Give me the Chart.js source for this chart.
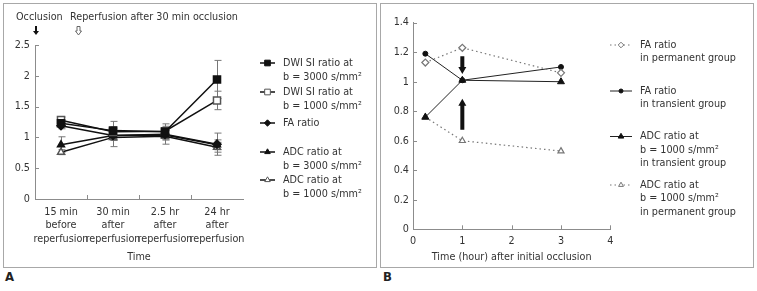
<!DOCTYPE html>
<html>
<head>
<meta charset="utf-8">
<script src="https://cdn.jsdelivr.net/npm/chart.js@4"></script>
<style>
  body { margin: 0; background: #fff; width: 757px; height: 291px; position: relative; overflow: hidden; }
  .panel { position: absolute; top: 3px; width: 372px; height: 263px; border: 1px solid #a8a8a8; }
  #panelA { left: 3px; }
  #panelB { left: 380px; }
  .tag { position: absolute; top: 269px; font-weight: bold; font-size: 13px; color: #222; }
</style>
</head>
<body>
<div class="panel" id="panelA"><canvas id="chartA" width="372" height="263"></canvas></div>
<div class="panel" id="panelB"><canvas id="chartB" width="372" height="263"></canvas></div>
<div class="tag" style="left:5px">A</div>
<div class="tag" style="left:383px">B</div>
<script>
// ---- panel A data ----
const timesA = [
  ['15 min', 'before', 'reperfusion'],
  ['30 min', 'after', 'reperfusion'],
  ['2.5 hr', 'after', 'reperfusion'],
  ['24 hr', 'after', 'reperfusion']
];
const dwi3000 = [1.23, 1.11, 1.09, 1.94];
const dwi3000Err = [0.05, 0.15, 0.13, 0.31];
const dwi1000 = [1.28, 1.09, 1.10, 1.60];
const dwi1000Err = [0.05, 0.08, 0.08, 0.15];
const faRatio = [1.19, 1.03, 1.05, 0.89];
const faRatioErr = [0.05, 0.06, 0.06, 0.18];
const adc3000 = [0.88, 1.03, 1.04, 0.88];
const adc3000Err = [0.13, 0.08, 0.08, 0.08];
const adc1000 = [0.76, 1.00, 1.02, 0.84];
const adc1000Err = [0.04, 0.15, 0.13, 0.08];
const legendA = [
  ['DWI SI ratio at', 'b = 3000 s/mm\u00B2'],
  ['DWI SI ratio at', 'b = 1000 s/mm\u00B2'],
  ['FA ratio'],
  ['ADC ratio at', 'b = 3000 s/mm\u00B2'],
  ['ADC ratio at', 'b = 1000 s/mm\u00B2']
];

// ---- panel B data ----
const hoursB = [0.25, 1, 3];
const faPermanent = [1.13, 1.23, 1.06];
const faTransient = [1.19, 1.01, 1.10];
const adcTransient = [0.76, 1.01, 1.00];
const adcPermanent = [0.76, 0.60, 0.53];
const legendB = [
  ['FA ratio', 'in permanent group'],
  ['FA ratio', 'in transient group'],
  ['ADC ratio at', 'b = 1000 s/mm\u00B2', 'in transient group'],
  ['ADC ratio at', 'b = 1000 s/mm\u00B2', 'in permanent group']
];
// arrows pointing at the 1 hour point (x, from value, to value)
const arrowsB = [[1, 1.172, 1.052], [1, 0.674, 0.885]];

// the original uses a narrow sans; take the first one installed and size it so
// the header line is as wide as in the picture (~168px)
function pickFont() {
  const c = document.createElement('canvas').getContext('2d');
  const probe = 'Reperfusion after 30 min occlusion';
  const cands = ['Liberation Sans Narrow', 'DejaVu Sans Condensed', 'Roboto', 'Liberation Sans'];
  for (const f of cands) {
    c.font = '12px monospace';
    const a = c.measureText(probe).width;
    c.font = "12px '" + f + "', monospace";
    const b = c.measureText(probe).width;
    if (Math.abs(a - b) > 0.5) {
      return { family: "'" + f + "', sans-serif", size: Math.max(9.5, Math.min(13, 12 * 168 / b)) };
    }
  }
  return { family: 'sans-serif', size: 11 };
}
const F = pickFont();
const FONT = F.family;
const FS = F.size;
const TXT = '#333';
const AXIS = '#8c8c8c';
Chart.defaults.font.family = FONT;
Chart.defaults.font.size = FS;
Chart.defaults.color = TXT;
document.querySelectorAll('.tag').forEach(el => { el.style.fontFamily = FONT; });

function pairs(xs, ys) {
  return xs.map((x, i) => ({x: x, y: ys[i]}));
}
function plainNum(v) {
  return String(Number(v.toFixed(2)));
}

// small inward tick marks along both axes
function innerTicks(xPositions) {
  return {
    id: 'innerTicks',
    afterDraw(chart) {
      const {ctx, chartArea: a, scales: {x, y}} = chart;
      ctx.save();
      ctx.strokeStyle = AXIS;
      ctx.lineWidth = 1;
      ctx.beginPath();
      y.ticks.forEach(t => {
        const py = Math.round(y.getPixelForValue(t.value)) + 0.5;
        ctx.moveTo(a.left, py); ctx.lineTo(a.left + 4, py);
      });
      xPositions(x).forEach(px => {
        px = Math.round(px) + 0.5;
        ctx.moveTo(px, a.bottom); ctx.lineTo(px, a.bottom - 4);
      });
      ctx.stroke();
      ctx.restore();
    }
  };
}

const errorBars = {
  id: 'errorBars',
  beforeDatasetsDraw(chart) {
    const {ctx, scales: {x, y}} = chart;
    ctx.save();
    ctx.strokeStyle = '#777';
    ctx.lineWidth = 1;
    chart.data.datasets.forEach(ds => {
      if (!ds.errors) return;
      ds.data.forEach((v, j) => {
        const px = Math.round(x.getPixelForValue(j)) + 0.5;
        const hi = y.getPixelForValue(v + ds.errors[j]);
        const lo = y.getPixelForValue(v - ds.errors[j]);
        ctx.beginPath();
        ctx.moveTo(px, hi); ctx.lineTo(px, lo);
        ctx.moveTo(px - 3, hi); ctx.lineTo(px + 4, hi);
        ctx.moveTo(px - 3, lo); ctx.lineTo(px + 4, lo);
        ctx.stroke();
      });
    });
    ctx.restore();
  }
};

function sideLegend(cfg) {
  return {
    id: 'sideLegend',
    afterDraw(chart) {
      const ctx = chart.ctx;
      ctx.save();
      chart.data.datasets.forEach((ds, i) => {
        const y = cfg.rows[i];
        ctx.strokeStyle = ds.borderColor;
        ctx.lineWidth = ds.borderWidth;
        ctx.setLineDash(ds.borderDash || []);
        ctx.beginPath();
        ctx.moveTo(cfg.x0, y); ctx.lineTo(cfg.x1, y);
        ctx.stroke();
        ctx.setLineDash([]);
        ctx.fillStyle = ds.pointBackgroundColor;
        ctx.strokeStyle = ds.pointBorderColor;
        ctx.lineWidth = 1;
        Chart.helpers.drawPoint(ctx, {pointStyle: ds.pointStyle, radius: ds.pointRadius * 0.8, rotation: 0, borderWidth: 1},
          (cfg.x0 + cfg.x1) / 2, y);
        ctx.fillStyle = TXT;
        ctx.font = FS + 'px ' + FONT;
        ctx.textBaseline = 'middle';
        cfg.texts[i].forEach((t, k) => ctx.fillText(t, cfg.tx, y + k * cfg.lh));
      });
      ctx.restore();
    }
  };
}

function arrow(ctx, x, yFrom, yTo, shaft, head, headLen, filled) {
  const dir = yTo > yFrom ? 1 : -1;
  const yb = yTo - dir * headLen;
  ctx.beginPath();
  ctx.moveTo(x - shaft / 2, yFrom);
  ctx.lineTo(x + shaft / 2, yFrom);
  ctx.lineTo(x + shaft / 2, yb);
  ctx.lineTo(x + head / 2, yb);
  ctx.lineTo(x, yTo);
  ctx.lineTo(x - head / 2, yb);
  ctx.lineTo(x - shaft / 2, yb);
  ctx.closePath();
  if (filled) { ctx.fill(); } else { ctx.stroke(); }
}

const annotA = {
  id: 'annotA',
  afterDraw(chart) {
    const ctx = chart.ctx;
    ctx.save();
    ctx.fillStyle = TXT;
    ctx.font = FS + 'px ' + FONT;
    ctx.textBaseline = 'middle';
    ctx.fillText('Occlusion', 12, 13);
    ctx.fillText('Reperfusion after 30 min occlusion', 66, 13);
    ctx.fillStyle = '#111';
    arrow(ctx, 32, 22, 31, 2, 6, 4, true);
    ctx.strokeStyle = '#666';
    ctx.lineWidth = 1;
    arrow(ctx, 74.5, 22.5, 31, 3, 6, 4, false);
    ctx.restore();
  }
};

const annotB = {
  id: 'annotB',
  afterDraw(chart) {
    const {ctx, scales: {x, y}} = chart;
    ctx.save();
    ctx.fillStyle = '#111';
    arrowsB.forEach(a => {
      arrow(ctx, x.getPixelForValue(a[0]), y.getPixelForValue(a[1]), y.getPixelForValue(a[2]), 4, 8, 7, true);
    });
    ctx.restore();
  }
};

function fixWidth(w) { return s => { s.width = w; }; }
function fixHeight(h) { return s => { s.height = h; }; }

// ---- chart A ----
new Chart(document.getElementById('chartA').getContext('2d'), {
  type: 'line',
  data: {
    labels: timesA,
    datasets: [
      { label: 'DWI SI ratio at b = 3000', data: dwi3000, errors: dwi3000Err, borderColor: '#111', borderWidth: 1.5,
        pointStyle: 'rect', pointRadius: 5, pointBackgroundColor: '#111', pointBorderColor: '#111' },
      { label: 'DWI SI ratio at b = 1000', data: dwi1000, errors: dwi1000Err, borderColor: '#111', borderWidth: 1.5,
        pointStyle: 'rect', pointRadius: 5, pointBackgroundColor: '#fff', pointBorderColor: '#555' },
      { label: 'FA ratio', data: faRatio, errors: faRatioErr, borderColor: '#111', borderWidth: 1.5,
        pointStyle: 'rectRot', pointRadius: 4, pointBackgroundColor: '#111', pointBorderColor: '#111' },
      { label: 'ADC ratio at b = 3000', data: adc3000, errors: adc3000Err, borderColor: '#111', borderWidth: 1.5,
        pointStyle: 'triangle', pointRadius: 4, pointBackgroundColor: '#111', pointBorderColor: '#111' },
      { label: 'ADC ratio at b = 1000', data: adc1000, errors: adc1000Err, borderColor: '#111', borderWidth: 1.5,
        pointStyle: 'triangle', pointRadius: 4, pointBackgroundColor: '#fff', pointBorderColor: '#555' }
    ]
  },
  options: {
    responsive: false,
    animation: false,
    layout: { padding: { left: 0, top: 41, right: 133, bottom: 0 } },
    scales: {
      x: {
        offset: true,
        afterFit: fixHeight(68),
        grid: { display: false, drawTicks: false },
        border: { color: AXIS },
        ticks: { padding: 6, font: { lineHeight: '13.7px' }, maxRotation: 0, autoSkip: false },
        title: { display: true, text: 'Time', font: { lineHeight: '13.7px' }, padding: { top: 0, bottom: 3.4 } }
      },
      y: {
        min: 0, max: 2.5,
        afterFit: fixWidth(31),
        grid: { display: false, drawTicks: false },
        border: { color: AXIS },
        ticks: { stepSize: 0.5, padding: 5, callback: plainNum }
      }
    },
    plugins: { legend: { display: false }, tooltip: { enabled: false } }
  },
  plugins: [
    errorBars,
    innerTicks(x => [0, 1, 2].map(i => (x.getPixelForValue(i) + x.getPixelForValue(i + 1)) / 2)),
    sideLegend({ rows: [59, 88, 119, 148, 176], texts: legendA, x0: 256, x1: 271, tx: 279, lh: 14 }),
    annotA
  ]
});

// ---- chart B ----
new Chart(document.getElementById('chartB').getContext('2d'), {
  type: 'line',
  data: {
    datasets: [
      { label: 'FA ratio in permanent group', data: pairs(hoursB, faPermanent), borderColor: '#777', borderWidth: 1.2,
        borderDash: [1.5, 3], pointStyle: 'rectRot', pointRadius: 3.5, pointBackgroundColor: '#fff', pointBorderColor: '#777' },
      { label: 'FA ratio in transient group', data: pairs(hoursB, faTransient), borderColor: '#222', borderWidth: 1,
        pointStyle: 'circle', pointRadius: 2.5, pointBackgroundColor: '#111', pointBorderColor: '#111' },
      { label: 'ADC ratio in transient group', data: pairs(hoursB, adcTransient), borderColor: '#222', borderWidth: 1,
        pointStyle: 'triangle', pointRadius: 4, pointBackgroundColor: '#111', pointBorderColor: '#111' },
      { label: 'ADC ratio in permanent group', data: pairs(hoursB, adcPermanent), borderColor: '#777', borderWidth: 1.2,
        borderDash: [1.5, 3], pointStyle: 'triangle', pointRadius: 3.5, pointBackgroundColor: '#fff', pointBorderColor: '#777' }
    ]
  },
  options: {
    responsive: false,
    animation: false,
    layout: { padding: { left: 0, top: 18.7, right: 142.7, bottom: 0 } },
    scales: {
      x: {
        type: 'linear', min: 0, max: 4,
        afterFit: fixHeight(37.7),
        grid: { display: false, drawTicks: false },
        border: { color: AXIS },
        ticks: { stepSize: 1, padding: 5, font: { lineHeight: '13.7px' } },
        title: { display: true, text: 'Time (hour) after initial occlusion', font: { lineHeight: '13.7px' }, padding: { top: 0, bottom: 3.4 } }
      },
      y: {
        min: 0, max: 1.4,
        afterFit: fixWidth(32),
        grid: { display: false, drawTicks: false },
        border: { color: AXIS },
        ticks: { stepSize: 0.2, padding: 4, callback: plainNum }
      }
    },
    plugins: { legend: { display: false }, tooltip: { enabled: false } }
  },
  plugins: [
    innerTicks(x => [1, 2, 3, 4].map(v => x.getPixelForValue(v))),
    sideLegend({ rows: [41, 87, 132.5, 181], texts: legendB, x0: 229, x1: 251, tx: 259, lh: 13.5 }),
    annotB
  ]
});
</script>
</body>
</html>
